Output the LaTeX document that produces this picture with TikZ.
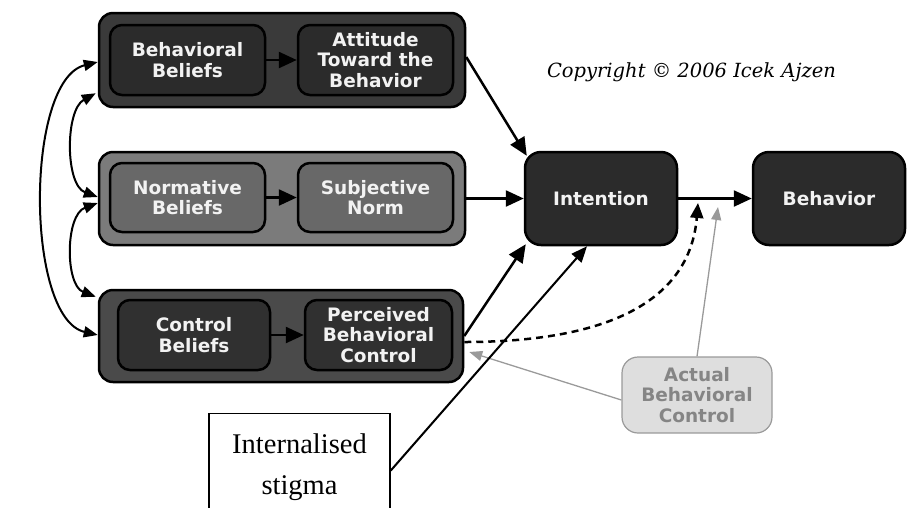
\documentclass[tikz,border=0pt]{standalone}
\usepackage{fontspec}
\setmainfont{Liberation Serif}
\newfontfamily\boxfont{DejaVu Sans}
\newfontfamily\copyfont{DejaVu Serif}
\usetikzlibrary{arrows.meta}
\definecolor{topouter}{HTML}{3A3A3A}
\definecolor{topinner}{HTML}{2B2B2B}
\definecolor{midouter}{HTML}{7B7B7B}
\definecolor{midinner}{HTML}{686868}
\definecolor{botouter}{HTML}{4A4A4A}
\definecolor{botinner}{HTML}{303030}
\definecolor{abcfill}{HTML}{DEDEDE}
\definecolor{abcdraw}{HTML}{9A9A9A}
\definecolor{abctext}{HTML}{858585}
\definecolor{txtwhite}{HTML}{F2F2F2}
\tikzset{
  outerbox/.style={draw=black, line width=2.5pt, rounded corners=14pt, inner sep=0pt},
  innerbox/.style={draw=black, line width=2.5pt, rounded corners=12pt, inner sep=0pt,
    align=center, text=txtwhite, font=\boxfont\bfseries\fontsize{18.5}{20.5}\selectfont},
  bigbox/.style={innerbox, fill=topinner, minimum width=152pt, minimum height=93pt, rounded corners=16pt},
  arr/.style={line width=2.5pt, -{Triangle[length=18pt,width=16pt]}},
  arcarr/.style={line width=2pt, {Triangle[length=14pt,width=11pt]}-{Triangle[length=14pt,width=11pt]}},
  grayarr/.style={draw=abcdraw, line width=1.3pt, -{Triangle[length=13pt,width=10pt]}, color=abcdraw},
  dasharr/.style={line width=2.5pt, dash pattern=on 7pt off 5pt, -{Triangle[length=15pt,width=13pt]}},
  stigbox/.style={draw=black, line width=1.3pt, fill=white, minimum width=181pt, minimum height=130pt, inner sep=0pt},
}
\begin{document}
\begin{tikzpicture}[x=1pt,y=-1pt]
\useasboundingbox (0,0) rectangle (907,507);

% outer group boxes
\node[outerbox, fill=topouter, minimum width=366pt, minimum height=94pt] (top) at (282,60) {};
\node[outerbox, fill=midouter, minimum width=366pt, minimum height=93pt] (mid) at (282,198.5) {};
\node[outerbox, fill=botouter, minimum width=364pt, minimum height=92pt] (bot) at (281,336) {};

% inner boxes
\node[innerbox, fill=topinner, minimum width=155pt, minimum height=70pt] (bb) at (187.5,60) {Behavioral\\Beliefs};
\node[innerbox, fill=topinner, minimum width=155pt, minimum height=70pt] (att) at (375.5,60) {Attitude\\Toward the\\Behavior};
\node[innerbox, fill=midinner, minimum width=155pt, minimum height=69pt] (nb) at (187.5,197.5) {Normative\\Beliefs};
\node[innerbox, fill=midinner, minimum width=155pt, minimum height=69pt] (sn) at (375.5,197.5) {Subjective\\Norm};
\node[innerbox, fill=botinner, minimum width=152pt, minimum height=70pt] (cb) at (194,335) {Control\\Beliefs};
\node[innerbox, fill=botinner, minimum width=147pt, minimum height=70pt] (pbc) at (378.5,335) {Perceived\\Behavioral\\Control};

% intention / behavior
\node[bigbox] (int) at (601,198.5) {Intention};
\node[bigbox] (beh) at (829,198.5) {Behavior};

% actual behavioral control
\node[draw=abcdraw, fill=abcfill, line width=1.2pt, rounded corners=16pt, minimum width=150pt, minimum height=76pt,
      align=center, text=abctext, font=\boxfont\bfseries\fontsize{18.5}{20.5}\selectfont] (abc) at (697,395) {Actual\\Behavioral\\Control};

% copyright
\node[font=\copyfont\itshape\fontsize{19.5}{22}\selectfont] (copy) at (691.5,72) {Copyright © 2006 Icek Ajzen};

% internalised stigma
\begin{scope}
\clip (0,0) rectangle (907,507);
\node[stigbox, anchor=north] (stig) at (299.5,413) {};
\end{scope}
\node[align=center, font=\fontsize{28.5}{41}\selectfont] (stigtext) at (299.5,467) {Internalised\\stigma};

% inner arrows
\draw[arr] (bb) -- (att);
\draw[arr] (nb) -- (sn);
\draw[arr] (cb) -- (pbc);

% to intention
\draw[arr] ([yshift=3pt]top.east) -- ([xshift=3pt,yshift=-5pt]int.north west);
\draw[arr] (mid.east) -- (int.west);
\draw[arr] (bot.east) -- ([xshift=2pt,yshift=2pt]int.south west);
\draw[arr] (int) -- (beh);

% dashed PBC -> intention/behavior link
\coordinate (dtip) at (698,203);
\coordinate (gtip) at (718,207);
\draw[dasharr] ([yshift=-6pt]bot.east) .. controls (610,342) and (690,300) .. (dtip);

% actual behavioral control arrows
\draw[grayarr] (abc.north) -- (gtip);
\draw[grayarr] ([yshift=-5pt]abc.west) -- ([xshift=5pt,yshift=-16pt]bot.east);

% internalised stigma arrow
\draw[line width=2pt, -{Triangle[length=16pt,width=13pt]}] ([yshift=8pt]stig.east) -- ([xshift=-14pt]int.south);

% left correlation arcs
\draw[arcarr] ([yshift=-2pt]top.west) .. controls (25,80) and (25,318) .. ([yshift=1pt]bot.west);
\draw[arcarr] ([xshift=-2pt,yshift=15pt]top.south west) .. controls (65,110) and (65,185) .. ([yshift=1.5pt]mid.west);
\draw[arcarr] ([yshift=-4.5pt]mid.west) .. controls (65,215) and (65,285) .. ([xshift=-2pt,yshift=-8pt]bot.north west);
\end{tikzpicture}
\end{document}
